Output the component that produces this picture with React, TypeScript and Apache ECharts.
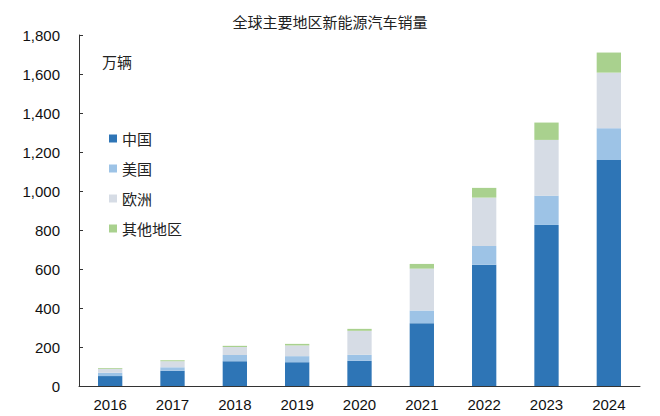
import React, { useEffect, useRef } from "react";
import * as echarts from "echarts";

const years = ["2016", "2017", "2018", "2019", "2020", "2021", "2022", "2023", "2024"];
const china = [51, 78, 127, 122, 129, 322, 622, 826, 1159];
const usa = [17, 18, 32, 31, 31, 65, 96, 150, 163];
const europe = [20, 31, 41, 55, 123, 215, 248, 286, 285];
const others = [4, 5, 6, 8, 10, 24, 50, 89, 103];
const seriesNames = ["中国", "美国", "欧洲", "其他地区"];
const colors = ["#2E75B6", "#9DC3E6", "#D6DCE5", "#A9D18E"];

export default function App() {
  const ref = useRef<HTMLDivElement>(null);
  useEffect(() => {
    if (!ref.current) return;
    document.body.style.margin = "0";
    const chart = echarts.init(ref.current, null, { renderer: "svg" });
    const data = [china, usa, europe, others];
    chart.setOption({
      animation: false,
      backgroundColor: "#ffffff",
      title: {
        text: "全球主要地区新能源汽车销量",
        left: "center",
        top: 9,
        textStyle: { fontFamily: "Noto Sans CJK SC", fontSize: 15, fontWeight: "normal", color: "#222" },
      },
      graphic: [
        {
          type: "text",
          left: 102,
          top: 54,
          style: { text: "万辆", fontFamily: "Noto Sans CJK SC", fontSize: 15, fill: "#222" },
        },
      ],
      legend: {
        orient: "vertical",
        left: 104,
        top: 126,
        itemWidth: 8,
        itemHeight: 8,
        itemGap: 15,
        icon: "rect",
        data: seriesNames,
        textStyle: { fontFamily: "Noto Sans CJK SC", fontSize: 15, color: "#222" },
      },
      grid: { left: 79, right: 20, top: 35, bottom: 30, containLabel: false },
      xAxis: {
        type: "category",
        data: years,
        axisLine: { lineStyle: { color: "#333", width: 1 } },
        axisTick: { show: false },
        axisLabel: { fontFamily: "Liberation Sans", fontSize: 15, color: "#111", margin: 11 },
      },
      yAxis: {
        type: "value",
        min: 0,
        max: 1800,
        interval: 200,
        axisLine: { show: true, lineStyle: { color: "#333", width: 1 } },
        axisTick: { show: true, inside: true, length: 4, lineStyle: { color: "#333" } },
        splitLine: { show: false },
        axisLabel: {
          fontFamily: "Liberation Sans",
          fontSize: 15,
          color: "#111",
          margin: 19,
          formatter: (v: number) => v.toLocaleString("en-US"),
        },
      },
      series: seriesNames.map((name, i) => ({
        name,
        type: "bar",
        stack: "total",
        barWidth: "39%",
        itemStyle: { color: colors[i] },
        data: data[i],
      })),
    });
    return () => chart.dispose();
  }, []);
  return <div ref={ref} style={{ width: 660, height: 416 }} />;
}
